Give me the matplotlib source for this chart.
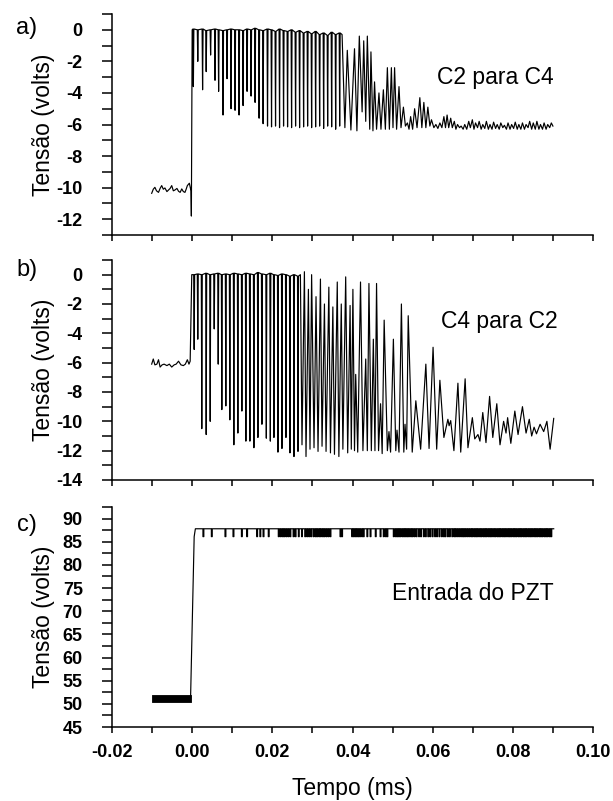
import matplotlib
matplotlib.use('Agg')
import matplotlib.pyplot as plt

plt.rcParams['font.family'] = ['Liberation Sans', 'DejaVu Sans']

# ---------------- data (time in ms, voltage in volts) ----------------
x_ticks = [-0.02, 0.00, 0.02, 0.04, 0.06, 0.08, 0.10]
x_tick_labels = ['-0.02', '0.00', '0.02', '0.04', '0.06', '0.08', '0.10']
x_minor = [-0.01, 0.01, 0.03, 0.05, 0.07, 0.09]

# panel a) C2 para C4
a_pre_t = [-0.0101, -0.0097, -0.0093, -0.0089, -0.0084, -0.0080, -0.0076, -0.0072, -0.0068,
           -0.0063, -0.0059, -0.0055, -0.0051, -0.0047, -0.0043, -0.0038, -0.0034, -0.0030,
           -0.0026, -0.0022, -0.0018, -0.0015, -0.0012, -0.0007, -0.0003, -0.0002, 0.0000]
a_pre_v = [-10.36, -10.10, -9.98, -10.20, -10.30, -10.05, -9.87, -10.10, -10.02,
           -10.25, -10.15, -10.05, -9.87, -10.20, -10.15, -10.05, -10.23, -10.30,
           -10.08, -10.25, -10.30, -10.10, -9.87, -9.72, -10.2, -11.8, 0.0]
a_spk_t = [0.0003, 0.0014, 0.0026, 0.0035, 0.0046, 0.0057, 0.0066, 0.0077, 0.0087, 0.0097,
           0.0107, 0.0117, 0.0127, 0.0137, 0.0147, 0.0157, 0.0167, 0.0177, 0.0188, 0.0198,
           0.0208, 0.0218, 0.0228, 0.0238, 0.0248, 0.0258, 0.0268, 0.0278, 0.0288, 0.0298,
           0.0308, 0.0318, 0.0328, 0.0338, 0.0348, 0.0358, 0.0368]
a_spk_min = [-3.6, -2.0, -3.8, -2.65, -1.6, -3.2, -3.9, -5.4, -3.1, -5.0,
             -5.1, -5.4, -4.8, -3.9, -4.2, -4.6, -5.6, -5.95, -6.1, -6.15,
             -6.1, -6.2, -6.1, -6.15, -6.2, -6.1, -6.2, -6.15, -6.1, -6.2,
             -6.15, -6.1, -6.25, -6.1, -6.15, -6.3, -6.1]
a_spk_top = [0.05, 0.0, 0.05, -0.05, 0.0, 0.05, 0.0, -0.05, 0.0, 0.05,
             0.0, 0.0, -0.05, 0.05, 0.0, 0.1, 0.0, -0.05, 0.05, 0.0,
             -0.1, 0.05, -0.05, -0.1, 0.0, -0.15, -0.05, -0.2, -0.1, -0.25,
             -0.1, -0.3, -0.2, -0.35, -0.15, -0.3, -0.2]
a_osc_t = [0.0374, 0.0381, 0.0387, 0.0396, 0.0405, 0.0411, 0.0417, 0.0424, 0.0428, 0.0433,
           0.0437, 0.0443, 0.0446, 0.0451, 0.0455, 0.0460, 0.0466, 0.0471, 0.0477, 0.0482,
           0.0487, 0.0492, 0.0497, 0.0501, 0.0505, 0.0510, 0.0516, 0.0521, 0.0527, 0.0532,
           0.0537, 0.0541, 0.0545, 0.0550, 0.0555, 0.0561, 0.0568, 0.0573, 0.0578, 0.0583,
           0.0588, 0.0593, 0.0597, 0.0603, 0.0608, 0.0613, 0.0618, 0.0623, 0.0628, 0.0632,
           0.0636, 0.0640, 0.0645, 0.0649, 0.0654, 0.0658, 0.0662, 0.0667, 0.0671, 0.0676,
           0.0680, 0.0685, 0.0690, 0.0694, 0.0699, 0.0703, 0.0707, 0.0712, 0.0716, 0.0721,
           0.0725, 0.0730, 0.0734, 0.0739, 0.0743, 0.0748, 0.0752, 0.0757, 0.0761, 0.0766,
           0.0770, 0.0775, 0.0779, 0.0784, 0.0788, 0.0793, 0.0797, 0.0802, 0.0806, 0.0811,
           0.0815, 0.0820, 0.0824, 0.0829, 0.0833, 0.0838, 0.0842, 0.0847, 0.0851, 0.0856,
           0.0860, 0.0865, 0.0869, 0.0874, 0.0878, 0.0883, 0.0887, 0.0892, 0.0896, 0.0900]
a_osc_v = [-0.3, -6.2, -1.3, -6.35, -1.2, -6.4, -0.4, -5.2, -0.7, -5.8,
           -0.4, -6.3, -1.4, -6.4, -3.3, -6.3, -4.0, -6.3, -3.8, -6.3,
           -2.4, -6.3, -2.4, -6.2, -2.4, -6.3, -3.6, -6.2, -4.9, -6.1,
           -5.9, -6.3, -5.5, -6.3, -5.0, -6.2, -4.3, -6.2, -4.6, -6.2,
           -4.9, -6.1, -5.7, -6.2, -6.0, -6.25, -5.9, -6.2, -5.5, -6.2,
           -5.4, -6.2, -5.6, -6.2, -5.8, -6.3, -6.0, -6.2, -6.1, -6.3,
           -6.0, -6.3, -5.8, -6.2, -5.7, -6.3, -5.9, -6.2, -5.8, -6.3,
           -6.0, -6.25, -5.8, -6.3, -6.0, -6.3, -5.85, -6.25, -6.0, -6.3,
           -5.9, -6.2, -6.05, -6.3, -5.9, -6.3, -6.0, -6.25, -5.85, -6.3,
           -6.0, -6.3, -5.9, -6.3, -6.0, -6.2, -5.8, -6.3, -5.9, -6.3,
           -5.8, -6.3, -6.0, -6.3, -5.9, -6.3, -6.0, -6.2, -5.9, -6.1]

# panel b) C4 para C2
b_pre_t = [-0.0101, -0.0097, -0.0093, -0.0088, -0.0084, -0.0080, -0.0075, -0.0070, -0.0063,
           -0.0057, -0.0051, -0.0045, -0.0040, -0.0034, -0.0028, -0.0022, -0.0017, -0.0012,
           -0.0008, -0.0005, -0.0003, -0.0001]
b_pre_v = [-6.1, -5.75, -6.15, -6.1, -5.8, -6.3, -6.15, -6.1, -6.2,
           -6.1, -6.3, -6.15, -6.1, -5.9, -6.15, -6.2, -6.1, -5.8,
           -6.1, -5.9, -3.0, 0.0]
b_spk_t = [0.0005, 0.0014, 0.0024, 0.0035, 0.0045, 0.0055, 0.0065, 0.0074, 0.0084, 0.0094,
           0.0104, 0.0114, 0.0124, 0.0134, 0.0144, 0.0154, 0.0164, 0.0174, 0.0185, 0.0195,
           0.0204, 0.0214, 0.0224, 0.0234, 0.0244, 0.0254, 0.0264]
b_spk_min = [-5.1, -4.4, -10.5, -10.9, -10.0, -3.7, -6.1, -9.2, -8.95, -9.9,
             -11.6, -10.8, -9.3, -11.35, -11.35, -11.8, -11.1, -10.2, -11.15, -11.35,
             -11.1, -12.1, -11.85, -11.1, -12.15, -12.4, -12.05]
b_spk_top = [0.0, 0.05, 0.0, 0.1, 0.0, 0.05, 0.1, 0.0, 0.05, 0.0,
             0.1, 0.05, 0.0, 0.1, 0.05, 0.0, 0.15, 0.05, 0.0, 0.1,
             0.0, -0.05, 0.05, 0.0, -0.1, 0.0, -0.1]
b_osc_t = [0.0270, 0.0274, 0.0280, 0.0284, 0.0290, 0.0294, 0.0298, 0.0304, 0.0309, 0.0314,
           0.0320, 0.0324, 0.0330, 0.0334, 0.0341, 0.0345, 0.0351, 0.0355, 0.0362, 0.0366,
           0.0372, 0.0376, 0.0383, 0.0388, 0.0394, 0.0397, 0.0401, 0.0405, 0.0408, 0.0413,
           0.0420, 0.0426, 0.0433, 0.0437, 0.0441, 0.0447, 0.0452, 0.0456, 0.0460, 0.0465,
           0.0470, 0.0474, 0.0479, 0.0487, 0.0491, 0.0495, 0.0502, 0.0508, 0.0511, 0.0516,
           0.0522, 0.0528, 0.0531, 0.0535, 0.0539, 0.0549, 0.0558, 0.0570, 0.0583, 0.0591,
           0.0601, 0.0610, 0.0618, 0.0628, 0.0638, 0.0641, 0.0645, 0.0653, 0.0663, 0.0670,
           0.0681, 0.0688, 0.0699, 0.0705, 0.0713, 0.0718, 0.0725, 0.0733, 0.0742, 0.0750,
           0.0760, 0.0768, 0.0777, 0.0783, 0.0787, 0.0795, 0.0805, 0.0813, 0.0824, 0.0833,
           0.0841, 0.0847, 0.0853, 0.0859, 0.0868, 0.0877, 0.0885, 0.0893, 0.0902]
b_osc_v = [0.0, -11.6, 0.2, -12.4, -1.0, -11.9, 0.0, -11.8, -1.5, -12.05,
           -0.3, -11.7, -2.0, -12.05, -0.85, -12.15, -2.2, -12.25, -0.5, -12.4,
           -2.0, -11.9, -0.15, -12.15, -2.1, -11.9, -1.0, -12.0, -6.8, -12.1,
           -0.5, -12.0, -5.75, -12.0, -0.6, -12.0, -4.4, -12.0, -0.6, -12.0,
           -8.8, -12.2, -3.1, -12.0, -10.7, -12.1, -4.4, -12.0, -10.6, -12.1,
           -2.0, -12.1, -10.2, -11.9, -2.8, -12.1, -8.6, -11.9, -6.1, -11.85,
           -4.95, -11.9, -7.2, -11.1, -9.86, -10.3, -9.95, -12.0, -7.4, -12.1,
           -7.1, -11.8, -9.75, -11.2, -10.9, -11.35, -9.4, -11.45, -8.3, -11.1,
           -8.8, -11.6, -10.0, -10.8, -9.75, -11.5, -9.3, -10.9, -9.0, -10.8,
           -9.86, -11.0, -10.4, -10.85, -10.2, -10.7, -10.0, -11.9, -9.8]

# panel c) Entrada do PZT
c_pre_t = [-0.0101, -0.0004]
c_pre_low = [50.4, 50.4]
c_pre_high = [51.9, 51.9]
c_rise_t = [-0.0004, 0.0005, 0.0008]
c_rise_v = [51.2, 86.1, 87.8]
c_top = 87.8
c_glitch_low = 86.1
c_end_t = 0.0902
c_glitch_t = [0.0028, 0.0049, 0.0083, 0.0103, 0.0124, 0.0137, 0.0162, 0.0170, 0.0178, 0.0191,
              0.0216, 0.0221, 0.0226, 0.0230, 0.0235, 0.0240, 0.0245,
              0.0253, 0.0258, 0.0266, 0.0274, 0.0282,
              0.0287, 0.0292, 0.0297, 0.0303, 0.0308,
              0.0312, 0.0317, 0.0321, 0.0326, 0.0330, 0.0335, 0.0340, 0.0345,
              0.0370, 0.0374,
              0.0399, 0.0403, 0.0407, 0.0411, 0.0415, 0.0419, 0.0424, 0.0428,
              0.0437, 0.0445, 0.0458, 0.0470, 0.0478, 0.0483, 0.0487,
              0.0503, 0.0508, 0.0512, 0.0516, 0.0520, 0.0525, 0.0529, 0.0533, 0.0537,
              0.0541, 0.0546, 0.0550, 0.0555, 0.0560, 0.0566, 0.0571, 0.0578, 0.0583, 0.0589,
              0.0594, 0.0600, 0.0606, 0.0611, 0.0617, 0.0623, 0.0628, 0.0632, 0.0638, 0.0643,
              0.0649, 0.0654, 0.0658, 0.0663, 0.0668, 0.0673, 0.0677, 0.0681, 0.0686, 0.0691,
              0.0696, 0.0700, 0.0705, 0.0709, 0.0713, 0.0718, 0.0722, 0.0727, 0.0731, 0.0735,
              0.0740, 0.0744, 0.0748, 0.0753, 0.0757, 0.0762, 0.0766, 0.0770, 0.0775, 0.0779,
              0.0783, 0.0788, 0.0792, 0.0796, 0.0801, 0.0805, 0.0809, 0.0814, 0.0818, 0.0822,
              0.0827, 0.0831, 0.0835, 0.0840, 0.0844, 0.0848, 0.0853, 0.0857, 0.0861, 0.0866,
              0.0870, 0.0874, 0.0879, 0.0883, 0.0887, 0.0892, 0.0896]

panel_letters = ['a)', 'b)', 'c)']
panel_texts = ['C2 para C4', 'C4 para C2', 'Entrada do PZT']
y_label = 'Tensão (volts)'
x_label = 'Tempo (ms)'

# ---------------- helpers ----------------
W, H = 613, 801
SPK_W = 0.00012
GL_W = 0.00022


def spikes(ts, mins, tops):
    tt, vv = [], []
    for t, m, top in zip(ts, mins, tops):
        tt += [t - SPK_W, t, t + SPK_W]
        vv += [top, m, top]
    return tt, vv


def glitches(ts, top, low, t_end):
    tt, vv = [], []
    for t in ts:
        tt += [t - GL_W / 2, t - GL_W / 2, t + GL_W / 2, t + GL_W / 2]
        vv += [top, low, low, top]
    tt.append(t_end)
    vv.append(top)
    return tt, vv


fig = plt.figure(figsize=(W / 100, H / 100), dpi=100)


def make_ax(top, bottom):
    left, right = 112, 593
    return fig.add_axes([left / W, 1 - bottom / H, (right - left) / W, (bottom - top) / H])


def style(ax, ylim, yticks, yminor, show_x):
    ax.set_xlim(-0.02, 0.10)
    ax.set_ylim(*ylim)
    for s in ['top', 'right']:
        ax.spines[s].set_visible(False)
    for s in ['left', 'bottom']:
        ax.spines[s].set_linewidth(1.1)
    ax.set_xticks(x_ticks, x_tick_labels if show_x else [''] * len(x_ticks),
                  fontweight='bold', fontsize=13)
    ax.set_xticks(x_minor, minor=True)
    ax.set_yticks(yticks, [f'{v:g}' for v in yticks], fontweight='bold', fontsize=13)
    ax.set_yticks(yminor, minor=True)
    ax.tick_params(axis='y', which='both', direction='out', length=7, width=1.1, pad=14)
    ax.tick_params(axis='x', which='both', direction='out', length=4.3, width=1.1, pad=8)
    ax.tick_params(axis='x', labelbottom=show_x)


LW = 0.85

# panel a
axa = make_ax(14, 235)
st, sv = spikes(a_spk_t, a_spk_min, a_spk_top)
axa.plot(a_pre_t + st + a_osc_t, a_pre_v + sv + a_osc_v, color='black', lw=LW)
style(axa, (-13, 1), [0, -2, -4, -6, -8, -10, -12], [1, -1, -3, -5, -7, -9, -11, -13], False)
axa.text(0.0903, -3.0, panel_texts[0], ha='right', va='center', fontsize=16.5)

# panel b
axb = make_ax(260, 480)
st, sv = spikes(b_spk_t, b_spk_min, b_spk_top)
axb.plot(b_pre_t + st + b_osc_t, b_pre_v + sv + b_osc_v, color='black', lw=LW)
style(axb, (-14, 1), [0, -2, -4, -6, -8, -10, -12, -14], [1, -1, -3, -5, -7, -9, -11, -13], False)
axb.text(0.0912, -3.2, panel_texts[1], ha='right', va='center', fontsize=16.5)

# panel c
axc = make_ax(507, 727)
axc.fill_between(c_pre_t, c_pre_low, c_pre_high, color='black', lw=0.6)
gt, gv = glitches(c_glitch_t, c_top, c_glitch_low, c_end_t)
axc.plot(c_rise_t + gt, c_rise_v + gv, color='black', lw=LW)
style(axc, (45, 92.5), [45, 50, 55, 60, 65, 70, 75, 80, 85, 90],
      [47.5, 52.5, 57.5, 62.5, 67.5, 72.5, 77.5, 82.5, 87.5, 92.5], True)
axc.text(0.0903, 73.9, panel_texts[2], ha='right', va='center', fontsize=16.5)

# labels
for yc in [124.5, 370, 617]:
    fig.text(44 / W, 1 - yc / H, y_label, rotation=90, ha='center', va='center', fontsize=16.5)
for letter, yc in zip(panel_letters, [28, 270, 525]):
    fig.text(27 / W, 1 - yc / H, letter, ha='center', va='center', fontsize=17)
fig.text(352.5 / W, 1 - 788 / H, x_label, ha='center', va='center', fontsize=16.5)

fig.savefig('out.png', dpi=100)
